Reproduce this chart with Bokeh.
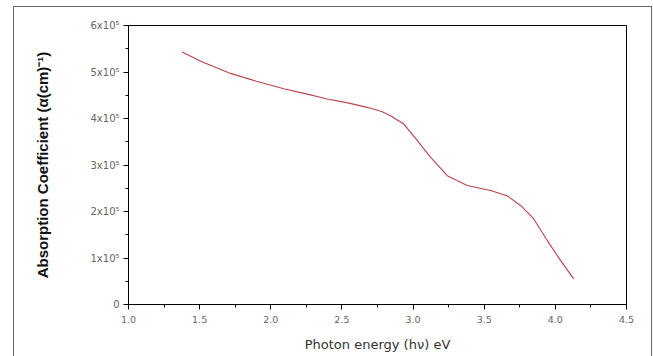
from bokeh.plotting import figure
from bokeh.models import Range1d, FixedTicker, InlineStyleSheet
from bokeh.embed import file_html
from bokeh.resources import INLINE

# Data
photon_energy = [1.377, 1.50, 1.717, 1.90, 2.091, 2.25, 2.396, 2.55, 2.677, 2.78, 2.841,
                 2.935, 3.029, 3.122, 3.24, 3.38, 3.544, 3.661, 3.755, 3.846, 3.942, 4.036, 4.129]
absorption = [5.43e5, 5.24e5, 4.97e5, 4.80e5, 4.64e5, 4.53e5, 4.42e5, 4.33e5, 4.24e5, 4.15e5, 4.06e5,
              3.88e5, 3.53e5, 3.17e5, 2.77e5, 2.56e5, 2.45e5, 2.34e5, 2.13e5, 1.85e5, 1.38e5, 0.95e5, 0.55e5]

x_ticks = [1.0, 1.5, 2.0, 2.5, 3.0, 3.5, 4.0, 4.5]
x_minor = [1.25, 1.75, 2.25, 2.75, 3.25, 3.75, 4.25]
y_ticks = [0, 1e5, 2e5, 3e5, 4e5, 5e5, 6e5]
y_minor = [0.5e5, 1.5e5, 2.5e5, 3.5e5, 4.5e5, 5.5e5]
y_labels = ["0", "1x10\u2075", "2x10\u2075", "3x10\u2075", "4x10\u2075", "5x10\u2075", "6x10\u2075"]

frame_css = InlineStyleSheet(css="""
:host::after {
  content: "";
  position: absolute;
  left: 13px;
  top: 6px;
  width: 637px;
  height: 400px;
  border: 1px solid #666666;
  pointer-events: none;
}
""")

p = figure(width=653, height=356, output_backend="svg", toolbar_location=None,
           x_range=Range1d(1.0, 4.5), y_range=Range1d(0, 6e5),
           min_border_left=128, min_border_right=27, min_border_top=25, min_border_bottom=52)
p.stylesheets = [frame_css]
p.styles = {"overflow": "hidden"}

p.line(photon_energy, absorption, line_color="#b8434c", line_width=1.1)

p.xgrid.visible = False
p.ygrid.visible = False
p.outline_line_color = "black"
p.outline_line_width = 1
p.background_fill_color = "white"
p.border_fill_color = "white"

p.xaxis.ticker = FixedTicker(ticks=x_ticks, minor_ticks=x_minor)
p.yaxis.ticker = FixedTicker(ticks=y_ticks, minor_ticks=y_minor)
p.xaxis.major_label_overrides = {t: f"{t:.1f}" for t in x_ticks}
p.yaxis.major_label_overrides = {t: l for t, l in zip(y_ticks, y_labels)}

for ax in (p.xaxis, p.yaxis):
    ax.axis_line_color = "black"
    ax.major_tick_line_color = "black"
    ax.minor_tick_line_color = "black"
    ax.major_tick_out = 5
    ax.major_tick_in = 0
    ax.minor_tick_out = 3
    ax.minor_tick_in = 0
    ax.major_label_text_font = "DejaVu Sans"
    ax.major_label_text_color = "#666666"

p.xaxis.major_label_text_font_size = "9.5px"
p.yaxis.major_label_text_font_size = "10px"
p.xaxis.major_label_standoff = 6
p.yaxis.major_label_standoff = 4

p.xaxis.axis_label = "Photon energy (h\u03bd) eV"
p.xaxis.axis_label_text_font = "DejaVu Sans"
p.xaxis.axis_label_text_font_size = "13px"
p.xaxis.axis_label_text_font_style = "normal"
p.xaxis.axis_label_text_color = "#333333"
p.xaxis.axis_label_standoff = 11

p.yaxis.axis_label = "Absorption Coefficient (\u03b1(cm)\u207b\u00b9)"
p.yaxis.axis_label_text_font = "Liberation Sans"
p.yaxis.axis_label_text_font_size = "15px"
p.yaxis.axis_label_text_font_style = "bold"
p.yaxis.axis_label_text_color = "#111111"
p.yaxis.axis_label_standoff = 36

open("out.html", "w").write(file_html(p, INLINE))
